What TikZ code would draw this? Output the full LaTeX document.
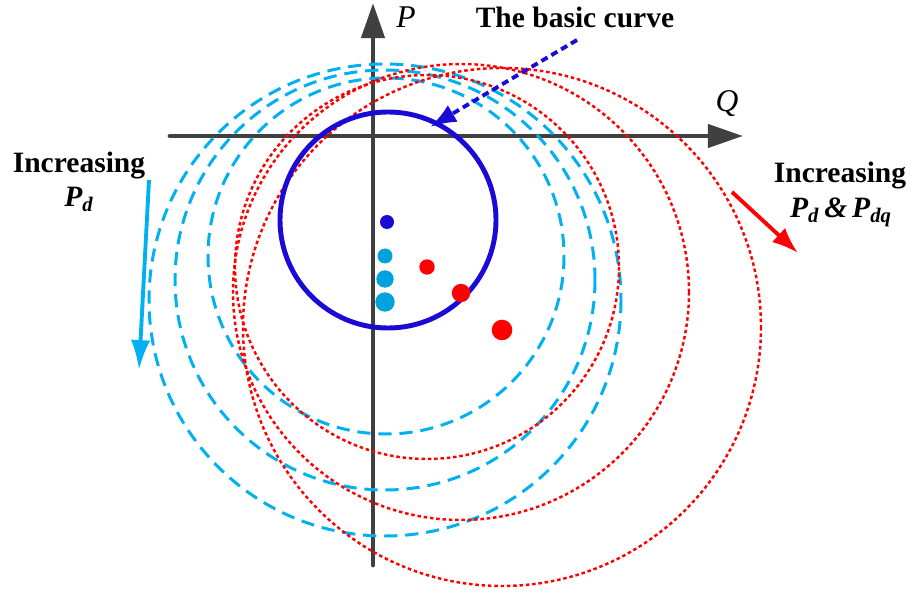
\documentclass[tikz,border=0pt]{standalone}
\usepackage{fontspec}
\setmainfont{Liberation Serif}
\usetikzlibrary{arrows.meta}
\definecolor{axgray}{RGB}{64,64,64}
\definecolor{basicblue}{RGB}{26,10,214}
\definecolor{pdcyan}{RGB}{0,176,240}
\definecolor{dotcyan}{RGB}{0,162,222}
\definecolor{pdred}{RGB}{255,0,0}
\tikzset{axis/.style={draw=axgray,line width=2.8pt,line cap=round,-{Triangle[length=20pt,width=13pt]}},basic/.style={draw=basicblue,line width=2.8pt},pdcirc/.style={draw=pdcyan,line width=1.7pt,dash pattern=on 7.5pt off 4.5pt},pdqcirc/.style={draw=pdred,line width=1.4pt,dash pattern=on 2pt off 1.6pt},lab/.style={font=\fontsize{16.8}{20}\selectfont\bfseries,inner sep=0pt,anchor=base},axlab/.style={font=\fontsize{18}{20}\selectfont\itshape,inner sep=0pt,anchor=base},ptr/.style={line width=2.2pt,-{Latex[length=15pt,width=11pt]}}}

\begin{document}
\begin{tikzpicture}[x=.02cm,y=-.02cm]
\useasboundingbox (0,0) rectangle (913,594);
% axes
\draw[axis] (373,565)--(373,3);
\draw[axis] (170,136)--(743,136);
\node[axlab] (P) at (406,28) {P};
\node[axlab] (Q) at (727,112) {Q};
% operating curves
\foreach \cx/\cy/\r in {386/256/178,385/280/210,385/300/236}{\draw[pdcirc] (\cx,\cy) circle (\r);}
\foreach \cx/\cy/\r in {427/267/192,461/292/228,502/327/259}{\draw[pdqcirc] (\cx,\cy) circle (\r);}
\draw[basic] (388,220) circle (108);
% centres
\fill[basicblue] (387,222) circle (7);
\foreach \cy/\r in {256/7.5,279/8.7,302/9.7}{\fill[dotcyan] (385,\cy) circle (\r);}
\foreach \cx/\cy/\r in {427/267/7.7,461/293/9.2,502/330/10.3}{\fill[pdred] (\cx,\cy) circle (\r);}
% labels
\node[lab] (basiclab) at (575,28) {The basic curve};
\coordinate (bstart) at (577,40);
\coordinate (bend) at (430,127);
\draw[ptr,basicblue,dash pattern=on 4pt off 2.5pt] (bstart)--(bend);
\node[lab] (incl) at (79,173) {Increasing};
\node[lab] (pdl) at (79,207) {\itshape P\textsubscript{d}};
\coordinate (lstart) at (149,180);
\coordinate (lend) at (139,370);
\draw[ptr,pdcyan,-{Latex[length=17pt,width=11pt]}] (lstart)--(lend);
\node[lab] (incr) at (840,183) {Increasing};
\node[lab] (pdr) at (841,218) {\itshape P\textsubscript{d}\,\&\,P\textsubscript{dq}};
\coordinate (rstart) at (732,192);
\coordinate (rend) at (798,253);
\draw[ptr,pdred] (rstart)--(rend);
\end{tikzpicture}
\end{document}
